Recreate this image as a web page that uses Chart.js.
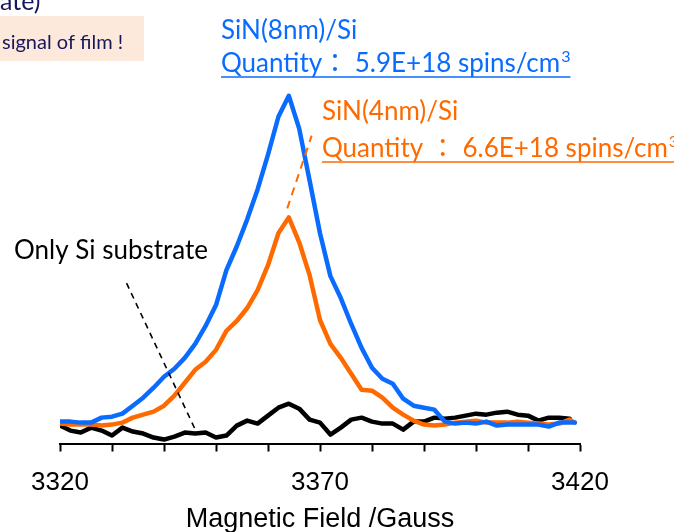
<!DOCTYPE html>
<html>
<head>
<meta charset="utf-8">
<script src="https://cdn.jsdelivr.net/npm/chart.js@4"></script>
<style>
  html, body { margin: 0; padding: 0; background: #fff; }
  #esr { display: block; }
</style>
</head>
<body>
<canvas id="esr" width="674" height="532"></canvas>
<script>
// Magnetic field (Gauss)
const fieldGauss = [3320, 3322, 3324, 3326, 3328, 3330, 3332, 3334, 3336, 3338,
    3340, 3342, 3344, 3346, 3348, 3350, 3352, 3354, 3356, 3358,
    3360, 3362, 3364, 3366, 3368, 3370, 3372, 3374, 3376, 3378,
    3380, 3382, 3384, 3386, 3388, 3390, 3392, 3394, 3396, 3398,
    3400, 3402, 3404, 3406, 3408, 3410, 3412, 3414, 3416, 3418, 3419];

// ESR intensity (arb. units)
const sin8nm = [22, 22, 21, 21, 26, 27, 30, 38, 46, 56,
    67, 75, 86, 100, 118, 139, 174, 198, 225, 255,
    290, 328, 349, 316, 264, 211, 168, 146, 120, 96,
    76, 65, 60, 45, 38, 36, 34, 22, 20, 21,
    20, 22, 18, 19, 19, 19, 19, 17, 21, 21, 21];

const sin4nm = [20, 19, 19, 19, 18, 19, 21, 26, 29, 32,
    38, 48, 61, 74, 82, 94, 113, 123, 136, 154,
    179, 211, 227, 202, 169, 124, 100, 86, 70, 54,
    53, 46, 36, 29, 23, 19, 18, 19, 21, 22,
    23, 21, 21, 21, 22, 21, 20, 19, 20, 24, 21];

const siOnly = [18, 13, 11, 16, 13, 8, 16, 12, 10, 6,
    4, 7, 11, 10, 11, 6, 8, 18, 23, 20,
    28, 36, 40, 35, 24, 21, 9, 16, 24, 26,
    22, 20, 20, 14, 22, 22, 26, 25, 26, 28,
    30, 29, 31, 32, 29, 28, 23, 26, 26, 25, null];

const xMajorLabels = [3320, 3370, 3420];

const BLUE = '#0a6cff';
const ORANGE = '#ff6a00';
const NAVY = '#17175c';

function toPoints(values) {
    return fieldGauss.map((g, i) => ({ x: g, y: values[i] }));
}

// pointer lines, in data coordinates [gauss, intensity]
const blackPointer = [[3332.8, 161], [3346.1, 13]];
const orangePointer = [[3363.7, 236], [3368.4, 309]];

function underlinedText(ctx, text, x, y, color, size) {
    ctx.fillStyle = color;
    ctx.strokeStyle = color;
    ctx.textBaseline = 'alphabetic';
    ctx.font = size + 'px Lato, "Noto Sans CJK JP", sans-serif';
    ctx.fillText(text, x, y);
    let w = ctx.measureText(text).width;
    // superscript 3
    ctx.font = Math.round(size * 0.62) + 'px Lato, sans-serif';
    ctx.fillText('3', x + w + 1, y - size * 0.38);
    w += ctx.measureText('3').width + 1;
    ctx.lineWidth = 1.6;
    ctx.beginPath();
    ctx.moveTo(x, y + 5);
    ctx.lineTo(x + w, y + 5);
    ctx.stroke();
}

const annotations = {
    id: 'annotations',
    afterDraw(chart) {
        const ctx = chart.ctx;
        const xs = chart.scales.x;
        const ys = chart.scales.y;
        ctx.save();

        // clipped note at top-left
        ctx.fillStyle = NAVY;
        ctx.font = '25px Lato, sans-serif';
        ctx.textBaseline = 'alphabetic';
        ctx.fillText('ate)', 0, 10);

        ctx.fillStyle = '#fce9db';
        ctx.fillRect(0, 16, 144, 45);
        ctx.fillStyle = NAVY;
        ctx.font = '20px Lato, sans-serif';
        ctx.fillText('signal of film !', 2, 49);

        // blue sample label
        ctx.fillStyle = BLUE;
        ctx.font = '26px Lato, sans-serif';
        ctx.fillText('SiN(8nm)/Si', 221, 39);
        underlinedText(ctx, 'Quantity\uFF1A 5.9E+18 spins/cm', 221, 72, BLUE, 26);

        // orange sample label
        ctx.fillStyle = ORANGE;
        ctx.font = '26px Lato, sans-serif';
        ctx.fillText('SiN(4nm)/Si', 322, 120);
        underlinedText(ctx, 'Quantity \uFF1A 6.6E+18 spins/cm', 322, 157, ORANGE, 26);

        ctx.fillStyle = '#000';
        ctx.font = '26px Lato, sans-serif';
        ctx.fillText('Only Si substrate', 14, 259);

        // dashed pointers
        ctx.setLineDash([6, 5]);
        ctx.lineWidth = 1.6;
        ctx.strokeStyle = '#000';
        ctx.beginPath();
        ctx.moveTo(xs.getPixelForValue(blackPointer[0][0]), ys.getPixelForValue(blackPointer[0][1]));
        ctx.lineTo(xs.getPixelForValue(blackPointer[1][0]), ys.getPixelForValue(blackPointer[1][1]));
        ctx.stroke();

        ctx.setLineDash([8, 6]);
        ctx.lineWidth = 2;
        ctx.strokeStyle = ORANGE;
        ctx.beginPath();
        ctx.moveTo(xs.getPixelForValue(orangePointer[0][0]), ys.getPixelForValue(orangePointer[0][1]));
        ctx.lineTo(xs.getPixelForValue(orangePointer[1][0]), ys.getPixelForValue(orangePointer[1][1]));
        ctx.stroke();

        ctx.restore();
    }
};

new Chart(document.getElementById('esr'), {
    type: 'line',
    data: {
        datasets: [
            { label: 'SiN(8nm)/Si', data: toPoints(sin8nm), borderColor: BLUE },
            { label: 'SiN(4nm)/Si', data: toPoints(sin4nm), borderColor: ORANGE },
            { label: 'Only Si substrate', data: toPoints(siOnly), borderColor: '#000' }
        ]
    },
    options: {
        responsive: false,
        animation: false,
        devicePixelRatio: 1,
        layout: { padding: { top: 40, left: 60, right: 94, bottom: 0 } },
        elements: {
            line: { borderWidth: 4.5, tension: 0, borderJoinStyle: 'round', borderCapStyle: 'round' },
            point: { radius: 0 }
        },
        plugins: {
            legend: { display: false },
            tooltip: { enabled: false }
        },
        scales: {
            x: {
                type: 'linear',
                min: 3320,
                max: 3420,
                grid: {
                    drawOnChartArea: false,
                    drawTicks: true,
                    tickLength: 8,
                    tickWidth: 2,
                    tickColor: '#000'
                },
                border: { display: true, color: '#000', width: 2 },
                ticks: {
                    stepSize: 10,
                    autoSkip: false,
                    maxRotation: 0,
                    padding: 16,
                    color: '#000',
                    font: { family: '"Liberation Sans", Arial, sans-serif', size: 26 },
                    callback: v => xMajorLabels.includes(v) ? String(v) : ''
                },
                title: {
                    display: true,
                    text: 'Magnetic Field /Gauss',
                    color: '#000',
                    font: { family: '"Liberation Sans", Arial, sans-serif', size: 27, lineHeight: 0.38 },
                    padding: { top: 0, bottom: 7 }
                }
            },
            y: {
                display: false,
                min: 0,
                max: 405
            }
        }
    },
    plugins: [annotations]
});
</script>
</body>
</html>
